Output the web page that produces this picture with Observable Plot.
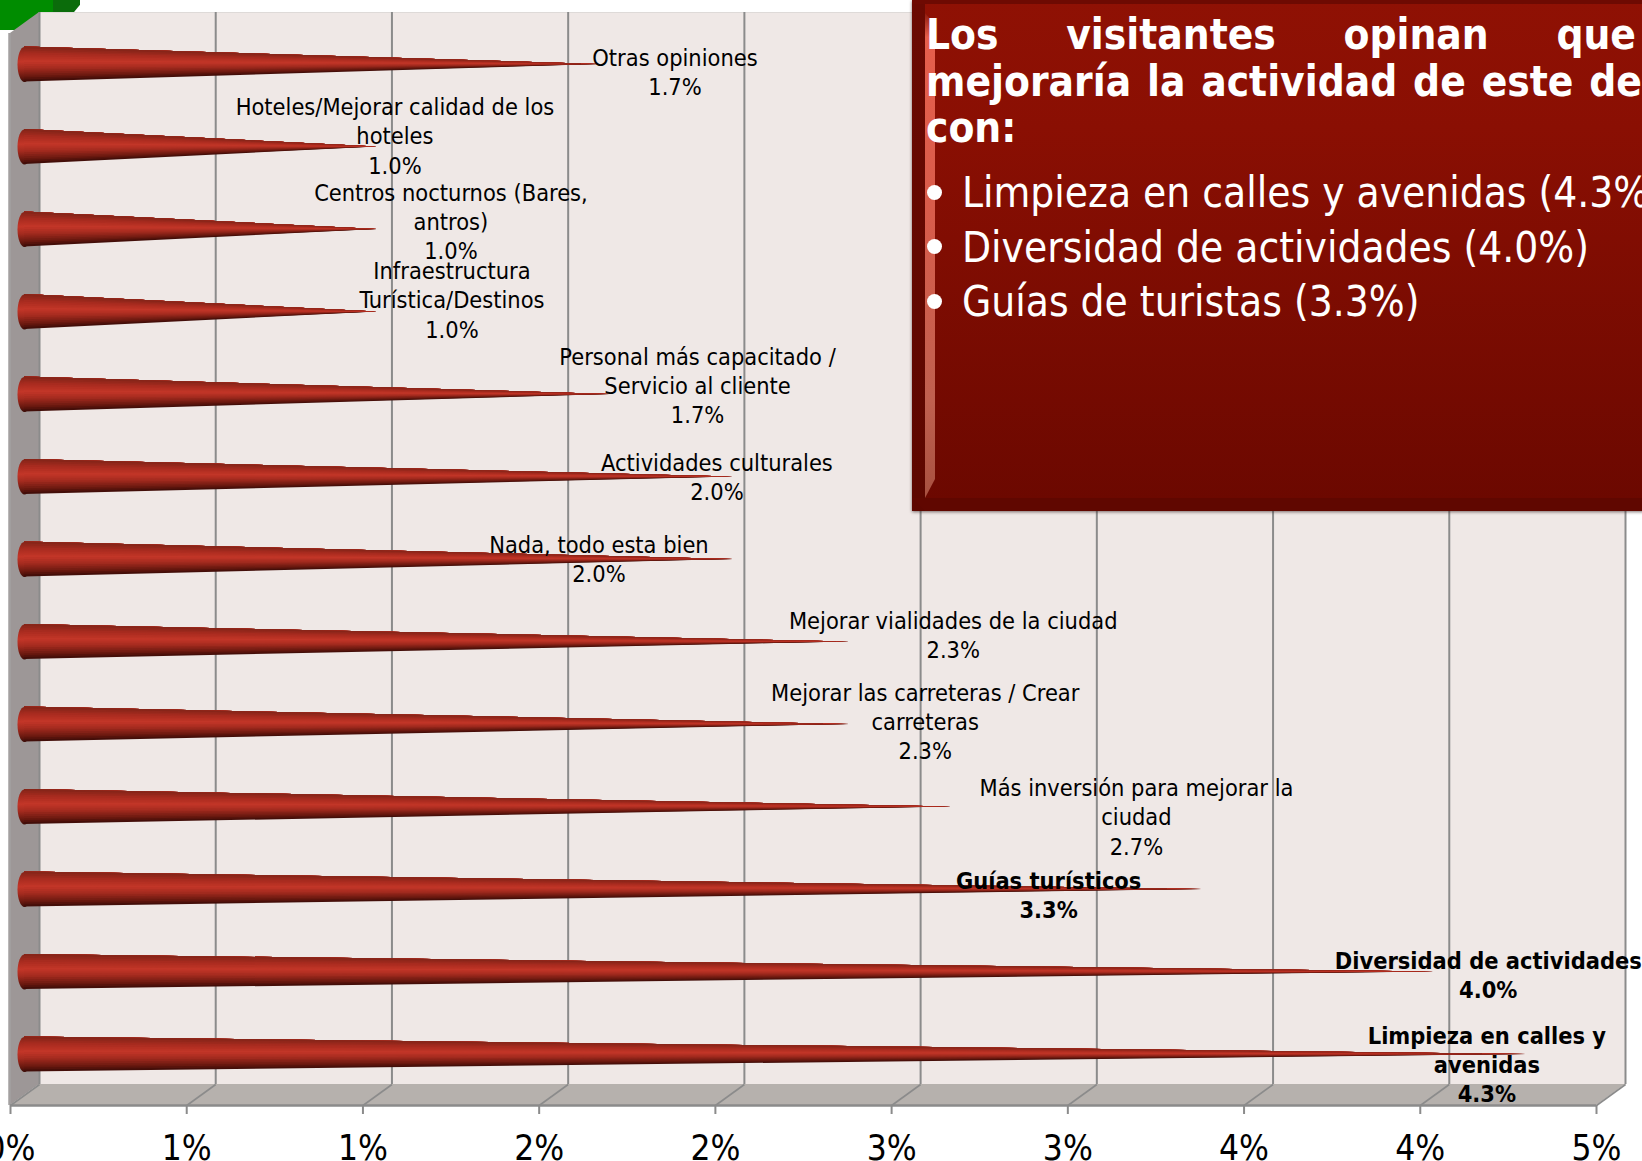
<!DOCTYPE html>
<html lang="es">
<head>
<meta charset="utf-8">
<script src="https://cdn.jsdelivr.net/npm/d3@7"></script>
<script src="https://cdn.jsdelivr.net/npm/@observablehq/plot@0.6"></script>
<style>
html,body{margin:0;padding:0;background:#fff;width:1642px;height:1161px;overflow:hidden;position:relative}
#chart{position:absolute;left:0;top:0;z-index:1}
#chart svg{display:block;overflow:hidden}
.g1,.g2{position:absolute;z-index:0}
.g1{left:0;top:0;width:53px;height:30px;background:#008c00}
.g2{left:53px;top:0;width:27px;height:12px;background:#0b6c0b;clip-path:polygon(0 0,100% 0,100% 40%,78% 100%,0 100%)}
#panel{position:absolute;z-index:2;left:912px;top:0;width:760px;height:511px;overflow:hidden;
 background:linear-gradient(#8f1104,#8a0f03 25%,#6b0800);box-shadow:0 1px 3px rgba(60,40,40,.65);
 font-family:"DejaVu Sans Condensed","DejaVu Sans",sans-serif;color:#fff}
#panel .edge{position:absolute;left:0;top:0;bottom:0;width:13px;background:linear-gradient(#6b0a02,#5d0700)}
#panel .edgeB{position:absolute;left:0;right:0;bottom:0;height:13px;background:#600700;clip-path:polygon(0 0,13px 100%,100% 100%,100% 0)}
#panel .edgeT{position:absolute;left:0;right:0;top:0;height:4px;background:#6e0a02}
#panel .shine{position:absolute;left:13px;top:13px;width:10px;height:485px;
 background:linear-gradient(#8f1a0c,#e65f4c 5%,#d95c4b 40%,#c0604f 80%,#a85040 100%);
 clip-path:polygon(0 0,100% 12px,100% 466px,0 100%)}
.h{position:absolute;left:14px;height:47px;line-height:47px;font-size:42px;font-weight:700;white-space:nowrap;text-align:justify;text-align-last:justify}
.h.l{text-align-last:left}
.b{position:absolute;left:50px;font-size:42px;line-height:55px;height:55px;white-space:nowrap}
.d{position:absolute;left:15px;width:15px;height:15px;border-radius:50%;background:#fff}
</style>
</head>
<body>
<div class="g1"></div><div class="g2"></div>
<div id="chart"></div>
<div id="panel">
  <div class="edge"></div><div class="edgeB"></div><div class="edgeT"></div><div class="shine"></div>
  <div id="ptext"></div>
</div>
<script>
// ---- data (top row first) ----
const categories = [
  "Otras opiniones",
  "Hoteles/Mejorar calidad de los\nhoteles",
  "Centros nocturnos (Bares,\nantros)",
  "Infraestructura\nTurística/Destinos",
  "Personal más capacitado /\nServicio al cliente",
  "Actividades culturales",
  "Nada, todo esta bien",
  "Mejorar vialidades de la ciudad",
  "Mejorar las carreteras / Crear\ncarreteras",
  "Más inversión para mejorar la\nciudad",
  "Guías turísticos",
  "Diversidad de actividades",
  "Limpieza en calles y\navenidas"
];
const values = [1.63, 1.0, 1.0, 1.0, 1.66, 2.01, 2.01, 2.34, 2.34, 2.63, 3.34, 4.0, 4.26];
const valueLabels = ["1.7%","1.0%","1.0%","1.0%","1.7%","2.0%","2.0%","2.3%","2.3%","2.7%","3.3%","4.0%","4.3%"];
const highlighted = ["Guías turísticos","Diversidad de actividades","Limpieza en calles y\navenidas"];
const tickValues = [0,0.5,1,1.5,2,2.5,3,3.5,4,4.5];
const panelHeading = ["Los visitantes opinan que","mejoraría la actividad de este de","con:"];
const panelBullets = ["Limpieza en calles y avenidas (4.3%)","Diversidad de actividades (4.0%)","Guías de turistas (3.3%)"];

// ---- layout (not data) ----
const labelDx = [90,32,88,89,102,-2,-120,118,90,199,-139,68,-25];
const labelDy = [7,-12,-9,-13,-10,-1,-1,-8,-4,9,5,2,9];
const rowPx = 82.5, unitPx = 352.44;
const yMin = (1054-1105)/rowPx, yMax = (1054-33)/rowPx;   // front plane vertical extent, in row units
const depthPx = [29,-21];
const depthX = depthPx[0]/unitPx, depthY = -depthPx[1]/rowPx;
const coneHalf = 17.5/rowPx, coneDx = 14;

const rows = categories.map((c,i)=>({
  cat:c, value:values[i], rank:categories.length-1-i,
  label:c+"\n"+valueLabels[i], dx:labelDx[i], dy:labelDy[i], strong:highlighted.includes(c)
}));
// conical shading: painter's layers, each from position t across the cone up to its top edge
const shade = d3.scaleLinear()
  .domain([-1,-0.75,-0.25,0.15,0.6,1])
  .range(["#3a0c07","#64170e","#a42b1f","#c33628","#a82b1f","#822418"])
  .interpolate(d3.interpolateRgb);
const layers = d3.range(18).map(k=>-1+k*2/18);
const coneLayer = t => Plot.area(
  rows.flatMap(r=>[
    {cat:r.cat,x:0,y1:r.rank+coneHalf*t,y2:r.rank+coneHalf},
    {cat:r.cat,x:r.value,y1:r.rank,y2:r.rank}
  ]),
  {x1:"x",x2:"x",y1:"y1",y2:"y2",z:"cat",dx:coneDx,fill:shade(t+1/18)}
);
const ellipse = {draw(ctx){
  const a=7,b=17.5,k=0.5523;
  ctx.moveTo(-a,0);
  ctx.bezierCurveTo(-a,-b*k,-a*k,-b,0,-b);
  ctx.bezierCurveTo(a*k,-b,a,-b*k,a,0);
  ctx.bezierCurveTo(a,b*k,a*k,b,0,b);
  ctx.bezierCurveTo(-a*k,b,-a,b*k,-a,0);
  ctx.closePath();
}};
const gridC="#8b8b8b", xEnd=tickValues[tickValues.length-1];
const fontFamily='"DejaVu Sans Condensed","DejaVu Sans",sans-serif';

const labelMark = (data,weight)=>data.map(r=>Plot.text([r],{
  x:"value",y:"rank",text:"label",dx:r.dx,dy:r.dy,fontSize:23.4,lineHeight:1.25,
  fontWeight:weight,fill:"#000",textAnchor:"middle"}));

const plot = Plot.plot({
  width:1642,height:1161,
  marginLeft:10,marginRight:46,marginTop:33,marginBottom:56,
  style:{background:"none",fontFamily},
  x:{domain:[0,xEnd],range:[10,1596]},
  y:{domain:[yMin,yMax],range:[1105,33],axis:null},
  marks:[
    // back wall
    Plot.frame({fill:"#efe8e6",stroke:"#dedad8",dx:depthPx[0],dy:depthPx[1]}),
    // left wall
    Plot.area([{x1:0,y1:yMin,x2:depthX,y2:yMin+depthY},{x1:0,y1:yMax,x2:depthX,y2:yMax+depthY}],
      {x1:"x1",y1:"y1",x2:"x2",y2:"y2",fill:"#9d9797"}),
    Plot.ruleX([0],{y1:yMin,y2:yMax,dx:-1,stroke:"#a3a0a0",strokeWidth:2.5}),
    // floor
    Plot.area([{x1:0,y1:yMin,x2:depthX,y2:yMin+depthY},{x1:xEnd,y1:yMin,x2:xEnd+depthX,y2:yMin+depthY}],
      {x1:"x1",y1:"y1",x2:"x2",y2:"y2",fill:"#b6b1ad"}),
    // grid on back wall and floor
    Plot.ruleX(tickValues,{y1:yMin+depthY,y2:yMax+depthY,dx:depthPx[0],stroke:gridC,strokeWidth:2}),
    Plot.link(tickValues,{x1:d=>d,y1:yMin,x2:d=>d+depthX,y2:yMin+depthY,stroke:gridC,strokeWidth:1.6}),
    Plot.ruleY([yMin],{x1:0,x2:xEnd,stroke:gridC,strokeWidth:2.4}),
    Plot.axisX({anchor:"bottom",ticks:tickValues,tickSize:9,tickPadding:21,stroke:gridC,strokeWidth:2,
      tickFormat:d=>`${Math.round(d)}%`,fontSize:35,fill:"#000",label:null}),
    // cones
    Plot.dot(rows,{x:()=>0,y:"rank",symbol:ellipse,r:10,dx:coneDx,fill:"url(#cone)",stroke:"none"}),
    ...layers.map(coneLayer),
    // labels
    ...labelMark(rows.filter(r=>!r.strong),400),
    ...labelMark(rows.filter(r=>r.strong),700)
  ]
});
const defs=d3.select(plot).insert("defs",":first-child");
const grad=defs.append("linearGradient").attr("id","cone").attr("x1",0).attr("y1",0).attr("x2",0).attr("y2",1);
[[0,"#822418"],[0.2,"#a82b1f"],[0.42,"#c33628"],[0.62,"#a42b1f"],[0.87,"#64170e"],[1,"#3a0c07"]]
  .forEach(([o,c])=>grad.append("stop").attr("offset",o).attr("stop-color",c));
document.getElementById("chart").append(plot);

// panel text
const pt=document.getElementById("ptext");
const headTop=[11,58,104];
const headW=[710,716,716];
panelHeading.forEach((t,i)=>{
  const e=document.createElement("div");
  e.className="h"+(i===2?" l":"");e.style.top=headTop[i]+"px";e.style.width=headW[i]+"px";e.textContent=t;pt.append(e);
});
const bulTop=[165,220,274];
panelBullets.forEach((t,i)=>{
  const e=document.createElement("div");e.className="b";e.style.top=bulTop[i]+"px";e.textContent=t;pt.append(e);
  const d=document.createElement("div");d.className="d";d.style.top=(184.5+54.6*i)+"px";pt.append(d);
});
</script>
</body>
</html>
